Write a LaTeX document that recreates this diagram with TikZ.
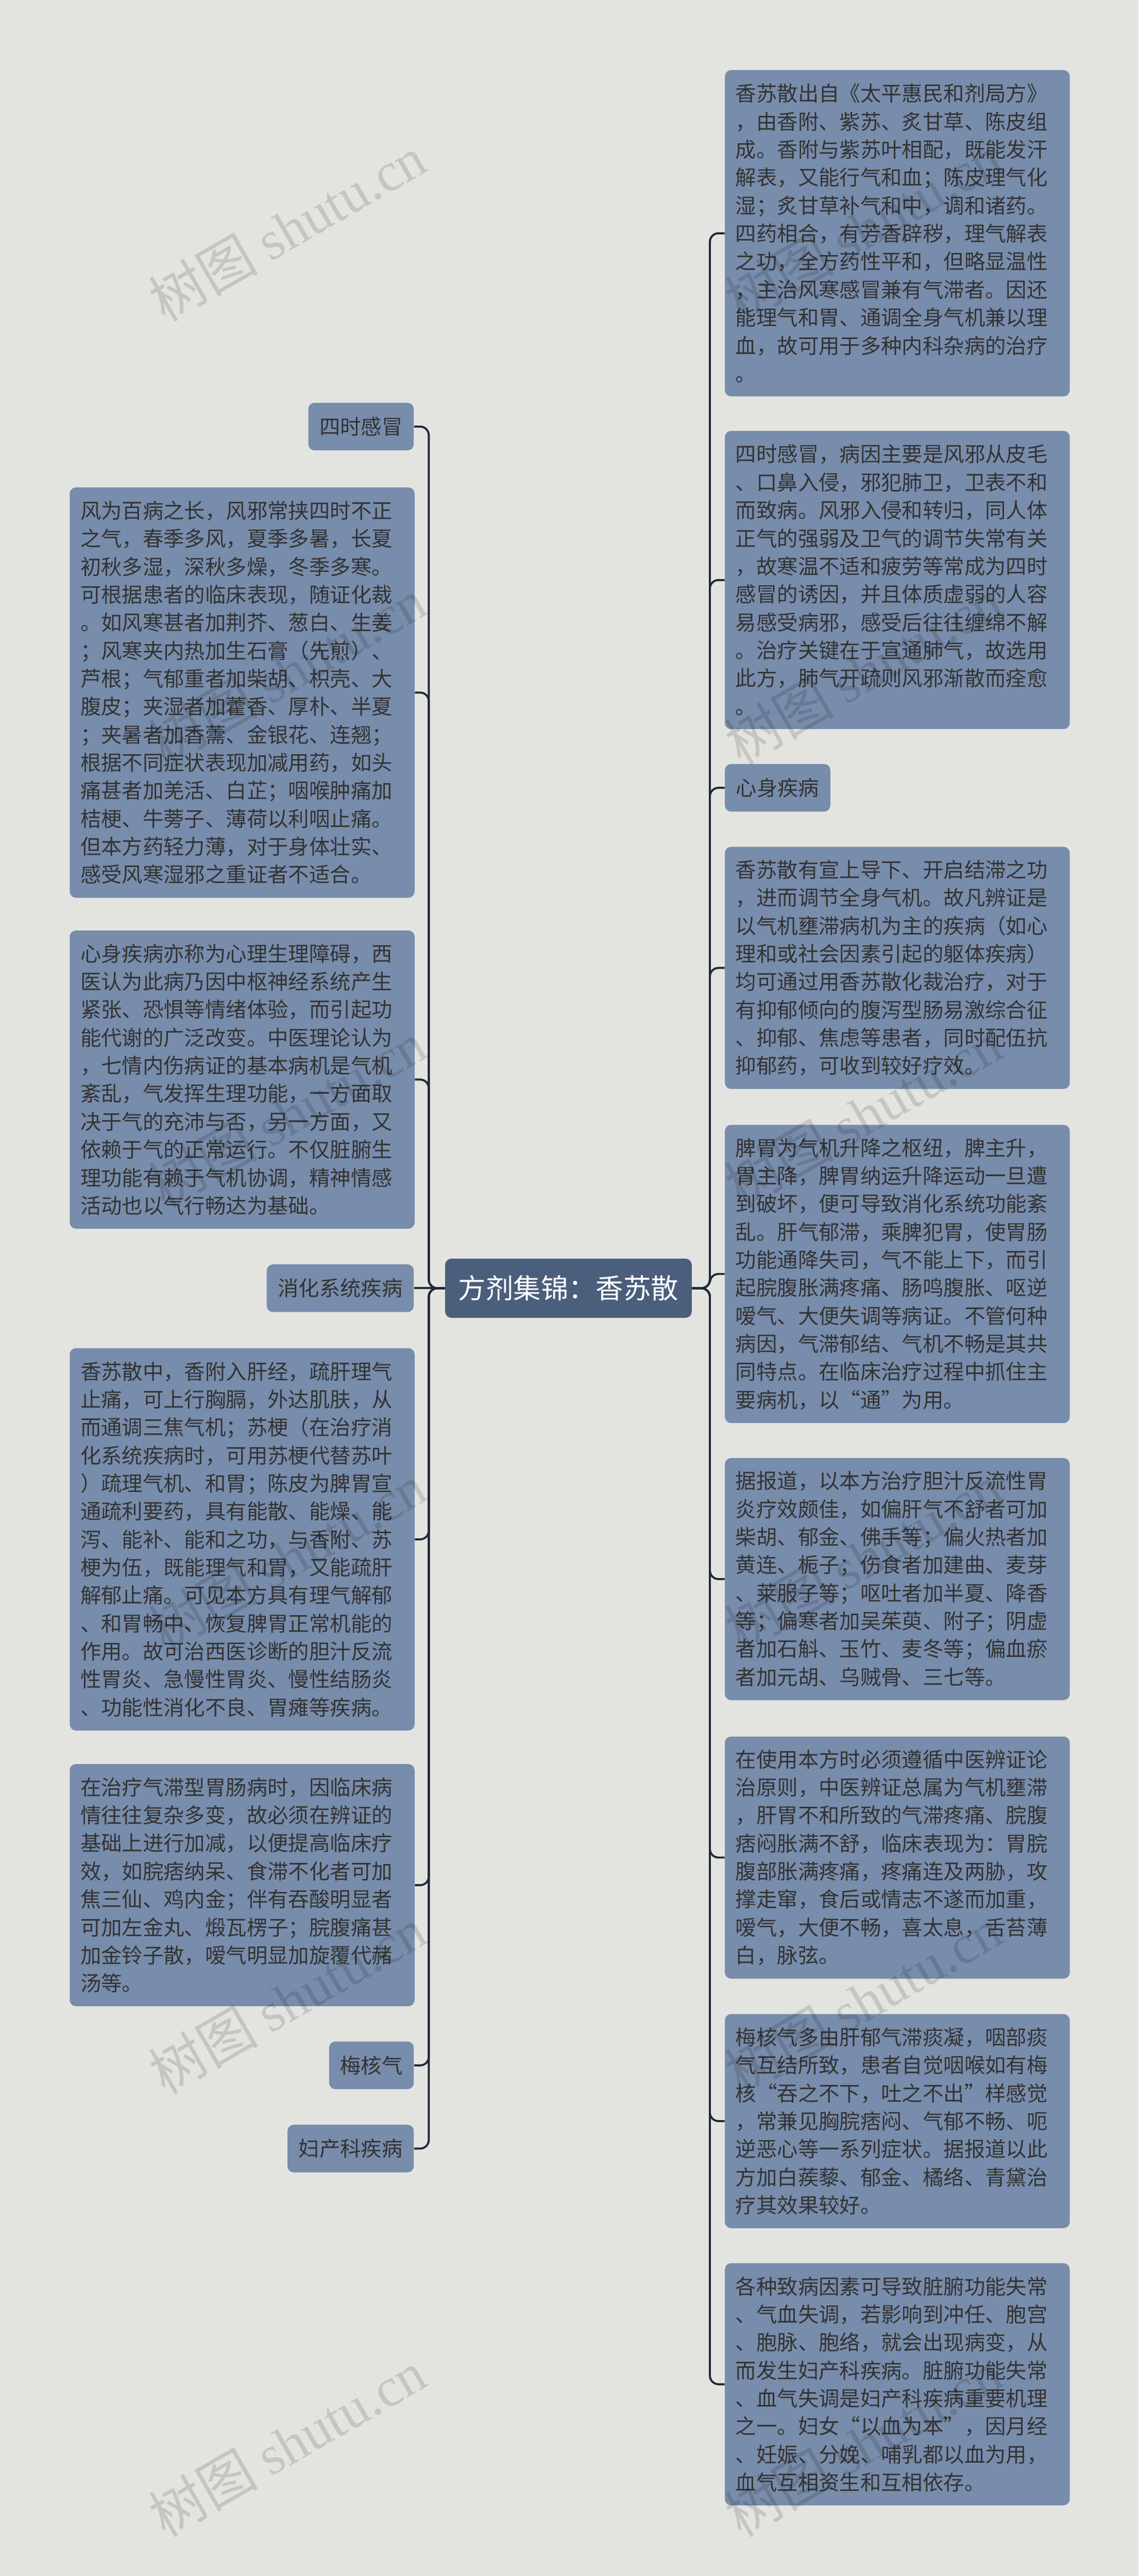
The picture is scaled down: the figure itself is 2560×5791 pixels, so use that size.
\documentclass[tikz,border=0pt]{standalone}
\usepackage{fontspec}
\setmainfont{Noto Sans CJK SC}
\newfontfamily\latinserif{Liberation Serif}
\definecolor{bg}{HTML}{E3E4E0}
\definecolor{boxfill}{HTML}{788CAB}
\definecolor{rootfill}{HTML}{4B5E7B}
\definecolor{ink}{HTML}{333333}
\definecolor{linkcol}{HTML}{1F2A38}

\begin{document}
\begin{tikzpicture}[x=0.01cm, y=-0.01cm,
    para/.style={fill=boxfill, rounded corners=4pt, anchor=north west,
        text=ink, align=left, text width=7.27cm, inner xsep=0.24cm,
        minimum height=#1*0.63cm+0.4cm,
        font=\fontsize{13.3pt}{17.9pt}\selectfont},
    tag/.style={fill=boxfill, rounded corners=4pt, text=ink,
        inner xsep=0.25cm, minimum height=1.07cm,
        font=\fontsize{13.3pt}{17.9pt}\selectfont},
    link/.style={draw=linkcol, line width=1.3pt, rounded corners=5.5pt},
    wmark/.style={rotate=30, text=black, opacity=0.13,
        font=\fontsize{35pt}{35pt}\selectfont}]
    % Hintergrund
    \fill [bg] (0,0) rectangle (2560,5791);
    % Mitte
    \node [fill=rootfill, rounded corners=4pt, text=white,
        minimum width=5.54cm, minimum height=1.33cm,
        font=\fontsize{17.6pt}{20pt}\selectfont] (root) at (1278,2896) {方剂集锦：香苏散};
    \coordinate (lspine) at (964,2896);
    \coordinate (rspine) at (1596,2896);
    % linke Seite
    \node [tag, anchor=east] (tcold) at (931,959) {四时感冒};
    \node [para=14] (cold) at (156,1095) {风为百病之长，风邪常挟四时不正\\之气，春季多风，夏季多暑，长夏\\初秋多湿，深秋多燥，冬季多寒。\\可根据患者的临床表现，随证化裁\\。如风寒甚者加荆芥、葱白、生姜\\；风寒夹内热加生石膏（先煎）、\\芦根；气郁重者加柴胡、枳壳、大\\腹皮；夹湿者加藿香、厚朴、半夏\\；夹暑者加香薷、金银花、连翘；\\根据不同症状表现加减用药，如头\\痛甚者加羌活、白芷；咽喉肿痛加\\桔梗、牛蒡子、薄荷以利咽止痛。\\但本方药轻力薄，对于身体壮实、\\感受风寒湿邪之重证者不适合。};
    \node [para=10] (mind) at (156,2091) {心身疾病亦称为心理生理障碍，西\\医认为此病乃因中枢神经系统产生\\紧张、恐惧等情绪体验，而引起功\\能代谢的广泛改变。中医理论认为\\，七情内伤病证的基本病机是气机\\紊乱，气发挥生理功能，一方面取\\决于气的充沛与否，另一方面，又\\依赖于气的正常运行。不仅脏腑生\\理功能有赖于气机协调，精神情感\\活动也以气行畅达为基础。};
    \node [tag, anchor=east] (tdigest) at (931,2896) {消化系统疾病};
    \node [para=13] (digest) at (156,3030) {香苏散中，香附入肝经，疏肝理气\\止痛，可上行胸膈，外达肌肤，从\\而通调三焦气机；苏梗（在治疗消\\化系统疾病时，可用苏梗代替苏叶\\）疏理气机、和胃；陈皮为脾胃宣\\通疏利要药，具有能散、能燥、能\\泻、能补、能和之功，与香附、苏\\梗为伍，既能理气和胃，又能疏肝\\解郁止痛。可见本方具有理气解郁\\、和胃畅中、恢复脾胃正常机能的\\作用。故可治西医诊断的胆汁反流\\性胃炎、急慢性胃炎、慢性结肠炎\\、功能性消化不良、胃瘫等疾病。};
    \node [para=8] (gut) at (156,3965) {在治疗气滞型胃肠病时，因临床病\\情往往复杂多变，故必须在辨证的\\基础上进行加减，以便提高临床疗\\效，如脘痞纳呆、食滞不化者可加\\焦三仙、鸡内金；伴有吞酸明显者\\可加左金丸、煅瓦楞子；脘腹痛甚\\加金铃子散，嗳气明显加旋覆代赭\\汤等。};
    \node [tag, anchor=east] (tplum) at (931,4643) {梅核气};
    \node [tag, anchor=east] (tgyn) at (931,4830) {妇产科疾病};
    % rechte Seite
    \node [para=11] (origin) at (1629,157) {香苏散出自《太平惠民和剂局方》\\，由香附、紫苏、炙甘草、陈皮组\\成。香附与紫苏叶相配，既能发汗\\解表，又能行气和血；陈皮理气化\\湿；炙甘草补气和中，调和诸药。\\四药相合，有芳香辟秽，理气解表\\之功，全方药性平和，但略显温性\\，主治风寒感冒兼有气滞者。因还\\能理气和胃、通调全身气机兼以理\\血，故可用于多种内科杂病的治疗\\。};
    \node [para=10] (cause) at (1629,968) {四时感冒，病因主要是风邪从皮毛\\、口鼻入侵，邪犯肺卫，卫表不和\\而致病。风邪入侵和转归，同人体\\正气的强弱及卫气的调节失常有关\\，故寒温不适和疲劳等常成为四时\\感冒的诱因，并且体质虚弱的人容\\易感受病邪，感受后往往缠绵不解\\。治疗关键在于宣通肺气，故选用\\此方，肺气开疏则风邪渐散而痊愈\\。};
    \node [tag, anchor=west] (tmind) at (1629,1771) {心身疾病};
    \node [para=8] (mindcure) at (1629,1903) {香苏散有宣上导下、开启结滞之功\\，进而调节全身气机。故凡辨证是\\以气机壅滞病机为主的疾病（如心\\理和或社会因素引起的躯体疾病）\\均可通过用香苏散化裁治疗，对于\\有抑郁倾向的腹泻型肠易激综合征\\、抑郁、焦虑等患者，同时配伍抗\\抑郁药，可收到较好疗效。};
    \node [para=10] (spleen) at (1629,2528) {脾胃为气机升降之枢纽，脾主升，\\胃主降，脾胃纳运升降运动一旦遭\\到破坏，便可导致消化系统功能紊\\乱。肝气郁滞，乘脾犯胃，使胃肠\\功能通降失司，气不能上下，而引\\起脘腹胀满疼痛、肠鸣腹胀、呕逆\\嗳气、大便失调等病证。不管何种\\病因，气滞郁结、气机不畅是其共\\同特点。在临床治疗过程中抓住主\\要病机，以“通”为用。};
    \node [para=8] (reflux) at (1629,3277) {据报道，以本方治疗胆汁反流性胃\\炎疗效颇佳，如偏肝气不舒者可加\\柴胡、郁金、佛手等；偏火热者加\\黄连、栀子；伤食者加建曲、麦芽\\、莱服子等；呕吐者加半夏、降香\\等；偏寒者加吴茱萸、附子；阴虚\\者加石斛、玉竹、麦冬等；偏血瘀\\者加元胡、乌贼骨、三七等。};
    \node [para=8] (rule) at (1629,3903) {在使用本方时必须遵循中医辨证论\\治原则，中医辨证总属为气机壅滞\\，肝胃不和所致的气滞疼痛、脘腹\\痞闷胀满不舒，临床表现为：胃脘\\腹部胀满疼痛，疼痛连及两胁，攻\\撑走窜，食后或情志不遂而加重，\\嗳气，大便不畅，喜太息，舌苔薄\\白，脉弦。};
    \node [para=7] (plum) at (1629,4527) {梅核气多由肝郁气滞痰凝，咽部痰\\气互结所致，患者自觉咽喉如有梅\\核“吞之不下，吐之不出”样感觉\\，常兼见胸脘痞闷、气郁不畅、呃\\逆恶心等一系列症状。据报道以此\\方加白蒺藜、郁金、橘络、青黛治\\疗其效果较好。};
    \node [para=8] (gyn) at (1629,5087) {各种致病因素可导致脏腑功能失常\\、气血失调，若影响到冲任、胞宫\\、胞脉、胞络，就会出现病变，从\\而发生妇产科疾病。脏腑功能失常\\、血气失调是妇产科疾病重要机理\\之一。妇女“以血为本”，因月经\\、妊娠、分娩、哺乳都以血为用，\\血气互相资生和互相依存。};
    % Verbindungen
    \foreach \n in {tcold,cold,mind,digest,gut,tplum,tgyn}
        \draw [link] (root.west) -- (lspine) |- (\n.east);
    \draw [link] (root.west) -- (tdigest.east);
    \foreach \n in {origin,cause,tmind,mindcure,spleen,reflux,rule,plum,gyn}
        \draw [link] (root.east) -- (rspine) |- (\n.west);
    % Wasserzeichen
    \foreach \y in {513,1509,2505,3501,4497,5493} {
        \node [wmark] at (646,\y) {树图 {\latinserif shutu.cn}};
        \node [wmark] at (1940,\y) {树图 {\latinserif shutu.cn}};
    }
\end{tikzpicture}
\end{document}
